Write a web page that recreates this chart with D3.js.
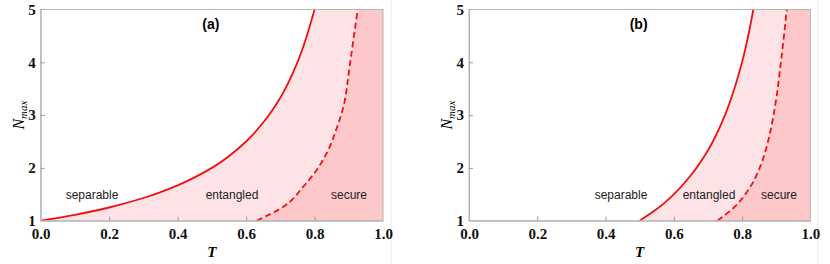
<!DOCTYPE html>
<html>
<head>
<meta charset="utf-8">
<script src="https://cdn.jsdelivr.net/npm/d3@7"></script>
<style>
  body { margin: 0; background: #fff; }
  svg { display: block; }
  .tick text { font-family: "Liberation Serif", "Times New Roman", serif; font-weight: bold; font-size: 15px; fill: #111; }
  .region { font-family: "Liberation Sans", Arial, sans-serif; font-size: 12px; fill: #222; }
</style>
</head>
<body>
<div id="chart"></div>
<script>
// tick values
var xTicks = [0, 0.2, 0.4, 0.6, 0.8, 1.0],
    yTicks = [1, 2, 3, 4, 5];

// panel (a): boundaries
var aSolidT  = [0, 0.1, 0.2, 0.3, 0.4, 0.5, 0.6, 0.65, 0.7, 0.75, 0.8],
    aSolidN  = [1, 1.11, 1.25, 1.43, 1.67, 2.0, 2.5, 2.86, 3.33, 4.0, 5.0],
    aDashT   = [0.631, 0.709, 0.767, 0.806, 0.840, 0.863, 0.882, 0.903, 0.914, 0.926],
    aDashN   = [1, 1.265, 1.644, 1.96, 2.34, 2.72, 3.10, 3.95, 4.45, 5.0];

// panel (b)
var bSolidT  = [0.5, 0.55, 0.6, 0.65, 0.7, 0.75, 0.78, 0.8, 0.82, 0.833],
    bSolidN  = [1, 1.22, 1.5, 1.86, 2.33, 3.0, 3.55, 4.0, 4.56, 5.0],
    bDashT   = [0.728, 0.779, 0.818, 0.853, 0.872, 0.888, 0.900, 0.911, 0.921, 0.931],
    bDashN   = [1, 1.265, 1.58, 2.02, 2.40, 2.85, 3.3, 3.85, 4.4, 5.0];

var panels = [
    { label: "(a)", left: 40.7, right: 383, solid: [aSolidT, aSolidN], dash: [aDashT, aDashN],
      words: [["separable", 92], ["entangled", 232], ["secure", 349]], edge: 391 },
    { label: "(b)", left: 469, right: 810.3, solid: [bSolidT, bSolidN], dash: [bDashT, bDashN],
      words: [["separable", 621], ["entangled", 709], ["secure", 779]], edge: 818 }
];

var width = 830, height = 264,
    plotTop = 9.5, plotBottom = 220.7;

var svg = d3.select("#chart").append("svg")
    .attr("width", width)
    .attr("height", height);

var zip = function (arr) {
    return arr[0].map(function (t, i) { return { t: t, n: arr[1][i] }; });
};

panels.forEach(function (p) {
    var x = d3.scaleLinear().domain([0, 1]).range([p.left, p.right]),
        y = d3.scaleLinear().domain([1, 5]).range([plotBottom, plotTop]);

    var g = svg.append("g");
    var solid = zip(p.solid), dash = zip(p.dash);

    // faint image edge
    g.append("line")
        .attr("x1", p.edge).attr("x2", p.edge)
        .attr("y1", 0).attr("y2", height)
        .attr("stroke", "#eeeeee");

    var area = d3.area()
        .curve(d3.curveMonotoneY)
        .y(function (d) { return y(d.n); })
        .x0(function (d) { return x(d.t); })
        .x1(x(1));

    g.append("path").datum(solid).attr("d", area).attr("fill", "#fde3e5");
    g.append("path").datum(dash).attr("d", area).attr("fill", "#fdc8c9");

    var line = d3.line()
        .curve(d3.curveMonotoneY)
        .x(function (d) { return x(d.t); })
        .y(function (d) { return y(d.n); });

    g.append("path").datum(solid).attr("d", line)
        .attr("fill", "none").attr("stroke", "#ee1111").attr("stroke-width", 1.8);
    g.append("path").datum(dash).attr("d", line)
        .attr("fill", "none").attr("stroke", "#ee1111").attr("stroke-width", 1.8)
        .attr("stroke-dasharray", "6,3.5");

    // frame
    g.append("rect")
        .attr("x", x(0)).attr("y", y(5))
        .attr("width", x(1) - x(0)).attr("height", y(1) - y(5))
        .attr("fill", "none").attr("stroke", "#b4b4b4");

    var xAxis = g.append("g")
        .attr("transform", "translate(0," + plotBottom + ")")
        .call(d3.axisBottom(x).tickValues(xTicks).tickSizeInner(-4).tickSizeOuter(0)
            .tickPadding(9).tickFormat(d3.format(".1f")));
    var yAxis = g.append("g")
        .attr("transform", "translate(" + p.left + ",0)")
        .call(d3.axisLeft(y).tickValues(yTicks).tickSizeInner(-4).tickSizeOuter(0)
            .tickPadding(5).tickFormat(d3.format("d")));
    [xAxis, yAxis].forEach(function (a) {
        a.select(".domain").attr("stroke", "#b4b4b4");
        a.selectAll(".tick line").attr("stroke", "#999");
    });
    xAxis.selectAll(".tick").filter(function (d) { return d === 0 || d === 1; })
        .select("line").remove();
    yAxis.selectAll(".tick").filter(function (d) { return d === 1 || d === 5; })
        .select("line").remove();
    xAxis.selectAll(".tick text").attr("dy", "0.62em");

    // axis titles
    g.append("text")
        .attr("x", (p.left + p.right) / 2).attr("y", 257)
        .attr("text-anchor", "middle")
        .style("font-family", "Liberation Serif, serif")
        .style("font-style", "italic").style("font-weight", "bold").style("font-size", "15px")
        .text("T");

    var yt = g.append("text")
        .attr("transform", "translate(" + (p.left - 17) + "," + ((plotTop + plotBottom) / 2) + ") rotate(-90)")
        .attr("text-anchor", "middle")
        .style("font-family", "Liberation Serif, serif")
        .style("font-style", "italic");
    yt.append("tspan").style("font-size", "16px").text("N");
    yt.append("tspan").style("font-size", "11px").attr("dy", 3).text("max");

    // panel label and region names
    g.append("text")
        .attr("x", (p.left + p.right) / 2 - 1).attr("y", 29)
        .attr("text-anchor", "middle")
        .style("font-family", "Liberation Sans, Arial, sans-serif")
        .style("font-weight", "bold").style("font-size", "14px")
        .text(p.label);

    p.words.forEach(function (w) {
        g.append("text").attr("class", "region")
            .attr("x", w[1]).attr("y", 199)
            .attr("text-anchor", "middle")
            .text(w[0]);
    });
});
</script>
</body>
</html>
